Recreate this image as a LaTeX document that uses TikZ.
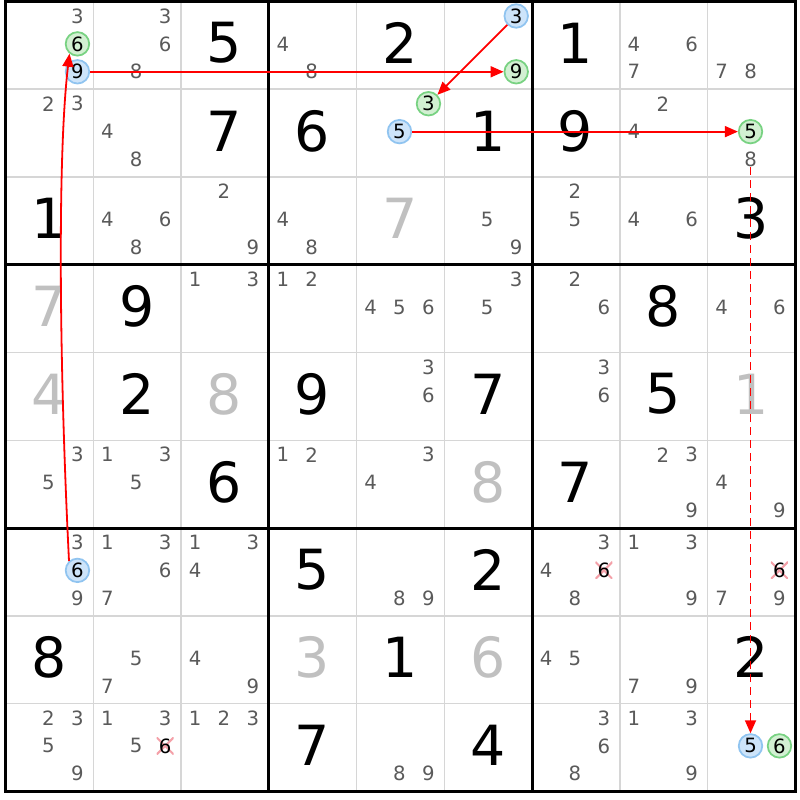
\documentclass[tikz,border=0pt]{standalone}
\usepackage{fontspec}
\setmainfont{DejaVu Sans}
\usetikzlibrary{arrows.meta}
\definecolor{candgray}{HTML}{5A5A5A}
\definecolor{solvedgray}{HTML}{C0C0C0}
\definecolor{thingrid}{HTML}{D6D6D6}
\definecolor{hlgreenfill}{HTML}{D2F0D2}
\definecolor{hlgreendraw}{HTML}{78D282}
\definecolor{hlbluefill}{HTML}{CDE4FA}
\definecolor{hlbluedraw}{HTML}{90C4F0}
\definecolor{crossred}{HTML}{F4A0A8}
\definecolor{linkred}{HTML}{FF0000}
\def\cs{1.755}
\newcommand{\given}[4][given]{\node[#1] (r#2c#3) at ({(#3-0.505)*\cs},{-(#2-0.525)*\cs}) {#4};}
\newcommand{\cand}[4][cand]{%
\pgfmathtruncatemacro\candcol{mod(#4-1,3)}%
\pgfmathtruncatemacro\candrow{div(#4-1,3)}%
\node[#1] (r#2c#3n#4) at ({(#3-1+0.16+0.33*\candcol)*\cs},{-(#2-1+0.165+0.318*\candrow)*\cs}) {#4};}
\newcommand{\cands}[3]{\foreach \d in {#3}{\cand{#1}{#2}{\d}}}
\tikzset{
thinline/.style={thingrid, line width=0.03cm},
boxline/.style={black, line width=0.06cm, line cap=rect},
given/.style={font=\fontsize{31.5}{32}\selectfont, inner sep=0pt},
solved/.style={given, text=solvedgray},
cand/.style={font=\fontsize{11.2}{12}\selectfont, text=candgray, inner sep=0pt},
hlgreen/.style={cand, text=black, circle, draw=hlgreendraw, fill=hlgreenfill, line width=0.035cm, minimum size=0.47cm},
hlblue/.style={cand, text=black, circle, draw=hlbluedraw, fill=hlbluefill, line width=0.035cm, minimum size=0.47cm},
crossed/.style={cand, text=black, minimum size=0.34cm, path picture={\draw[crossred, line width=0.04cm] (path picture bounding box.north west) -- (path picture bounding box.south east) (path picture bounding box.south west) -- (path picture bounding box.north east);}},
link/.style={draw=linkred, line width=0.036cm, -{Triangle[length=0.26cm,width=0.22cm,fill=linkred]}},
weaklink/.style={link, dash pattern=on 0.16cm off 0.1cm}
}
\begin{document}
\begin{tikzpicture}
\fill[white] (-0.11,0.03) rectangle (15.89,-15.97);
\foreach \i in {1,2,4,5,7,8} {
\draw[thinline] ({\i*\cs},0) -- ({\i*\cs},{-9*\cs});
\draw[thinline] (0,{-\i*\cs}) -- ({9*\cs},{-\i*\cs});
}
\foreach \i in {3,6} {
\draw[boxline] ({\i*\cs},0) -- ({\i*\cs},{-9*\cs});
\draw[boxline] (0,{-\i*\cs}) -- ({9*\cs},{-\i*\cs});
}
\draw[boxline] (0,0) rectangle ({9*\cs},{-9*\cs});
\cand{1}{1}{3} \cand[hlgreen]{1}{1}{6} \cand[hlblue]{1}{1}{9}
\cands{1}{2}{3,6,8}
\given{1}{3}{5}
\cands{1}{4}{4,8}
\given{1}{5}{2}
\cand[hlblue]{1}{6}{3} \cand[hlgreen]{1}{6}{9}
\given{1}{7}{1}
\cands{1}{8}{4,6,7}
\cands{1}{9}{7,8}
\cands{2}{1}{2,3}
\cands{2}{2}{4,8}
\given{2}{3}{7}
\given{2}{4}{6}
\cand[hlgreen]{2}{5}{3} \cand[hlblue]{2}{5}{5}
\given{2}{6}{1}
\given{2}{7}{9}
\cands{2}{8}{2,4}
\cand[hlgreen]{2}{9}{5} \cand{2}{9}{8}
\given{3}{1}{1}
\cands{3}{2}{4,6,8}
\cands{3}{3}{2,9}
\cands{3}{4}{4,8}
\given[solved]{3}{5}{7}
\cands{3}{6}{5,9}
\cands{3}{7}{2,5}
\cands{3}{8}{4,6}
\given{3}{9}{3}
\given[solved]{4}{1}{7}
\given{4}{2}{9}
\cands{4}{3}{1,3}
\cands{4}{4}{1,2}
\cands{4}{5}{4,5,6}
\cands{4}{6}{3,5}
\cands{4}{7}{2,6}
\given{4}{8}{8}
\cands{4}{9}{4,6}
\given[solved]{5}{1}{4}
\given{5}{2}{2}
\given[solved]{5}{3}{8}
\given{5}{4}{9}
\cands{5}{5}{3,6}
\given{5}{6}{7}
\cands{5}{7}{3,6}
\given{5}{8}{5}
\given[solved]{5}{9}{1}
\cands{6}{1}{3,5}
\cands{6}{2}{1,3,5}
\given{6}{3}{6}
\cands{6}{4}{1,2}
\cands{6}{5}{3,4}
\given[solved]{6}{6}{8}
\given{6}{7}{7}
\cands{6}{8}{2,3,9}
\cands{6}{9}{4,9}
\cand{7}{1}{3} \cand[hlblue]{7}{1}{6} \cand{7}{1}{9}
\cands{7}{2}{1,3,6,7}
\cands{7}{3}{1,3,4}
\given{7}{4}{5}
\cands{7}{5}{8,9}
\given{7}{6}{2}
\cands{7}{7}{3,4,8} \cand[crossed]{7}{7}{6}
\cands{7}{8}{1,3,9}
\cand[crossed]{7}{9}{6} \cands{7}{9}{7,9}
\given{8}{1}{8}
\cands{8}{2}{5,7}
\cands{8}{3}{4,9}
\given[solved]{8}{4}{3}
\given{8}{5}{1}
\given[solved]{8}{6}{6}
\cands{8}{7}{4,5}
\cands{8}{8}{7,9}
\given{8}{9}{2}
\cands{9}{1}{2,3,5,9}
\cands{9}{2}{1,3,5} \cand[crossed]{9}{2}{6}
\cands{9}{3}{1,2,3}
\given{9}{4}{7}
\cands{9}{5}{8,9}
\given{9}{6}{4}
\cands{9}{7}{3,6,8}
\cands{9}{8}{1,3,9}
\cand[hlblue]{9}{9}{5} \cand[hlgreen]{9}{9}{6}
\draw[link] (r7c1n6.132) .. controls +(-0.2,4.0) and +(-0.24,-2.0) .. (r1c1n6.231);
\draw[link] (r1c1n9) -- (r1c6n9);
\draw[link] (r1c6n3) -- (r2c5n3);
\draw[link] (r2c5n5) -- (r2c9n5);
\draw[weaklink] (r2c9n8.south) -- (r9c9n5);
\end{tikzpicture}
\end{document}
